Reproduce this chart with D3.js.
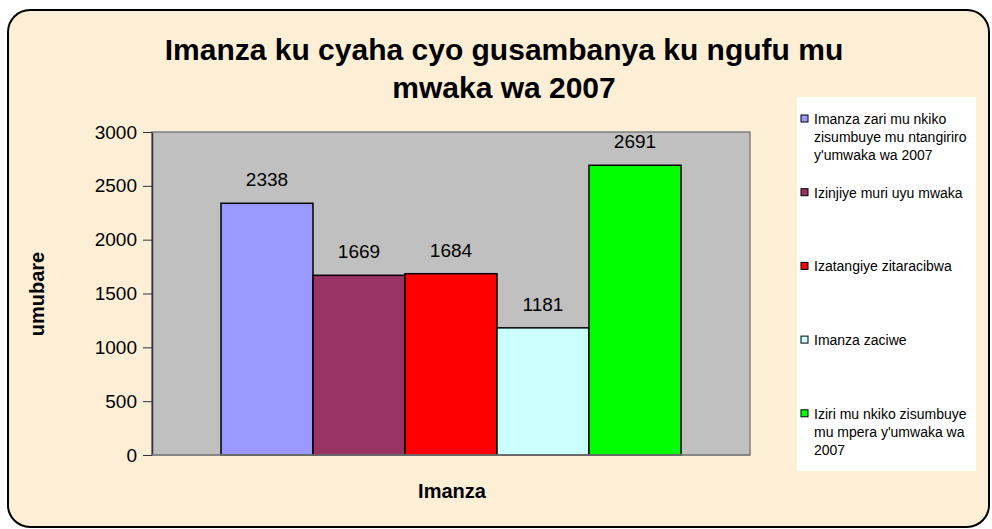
<!DOCTYPE html>
<html>
<head>
<meta charset="utf-8">
<script src="https://cdn.jsdelivr.net/npm/d3@7"></script>
<style>
    body { margin: 0; background: #ffffff; }
    svg  { display: block; font-family: "Liberation Sans", Arial, sans-serif; }
</style>
</head>
<body>
<div id="graph"></div>
<script>

// Chart data
var seriesNames  = [ "Imanza zari mu nkiko zisumbuye mu ntangiriro y'umwaka wa 2007",
                     "Izinjiye muri uyu mwaka",
                     "Izatangiye zitaracibwa",
                     "Imanza zaciwe",
                     "Iziri mu nkiko zisumbuye mu mpera y'umwaka wa 2007" ];
var seriesValues = [ 2338, 1669, 1684, 1181, 2691 ];
var seriesColours = [ '#9999ff', '#993366', '#ff0000', '#ccffff', '#00ff00' ];

// legend lines (the way Excel wrapped them)
var legendLines = [ [ 'Imanza zari mu nkiko', 'zisumbuye mu ntangiriro', "y'umwaka wa 2007" ],
                    [ 'Izinjiye muri uyu mwaka' ],
                    [ 'Izatangiye zitaracibwa' ],
                    [ 'Imanza zaciwe' ],
                    [ 'Iziri mu nkiko zisumbuye', "mu mpera y'umwaka wa", '2007' ] ];

var yTicks     = [ 0, 500, 1000, 1500, 2000, 2500, 3000 ];
var titleLines = [ 'Imanza ku cyaha cyo gusambanya ku ngufu mu', 'mwaka wa 2007' ];
var xTitle     = 'Imanza';
var yTitle     = 'umubare';


var overallWidth  = 992;
var overallHeight = 529;

// plot area inside the chart
var plot = { left: 152, right: 750, top: 132, bottom: 455 };

var svg = d3.select ('#graph').append ('svg')
            .attr ('width', overallWidth)
            .attr ('height', overallHeight);

// chart frame
svg.append ('rect')
   .attr ('x', 8).attr ('y', 10)
   .attr ('width', 981).attr ('height', 517)
   .attr ('rx', 22).attr ('ry', 22)
   .style ('fill', '#fcefd6')
   .style ('stroke', '#000')
   .style ('stroke-width', 2);

// title
svg.append ('text')
   .attr ('x', 504).attr ('y', 60)
   .attr ('text-anchor', 'middle')
   .style ('font-size', '30px').style ('font-weight', 'bold')
   .selectAll ('tspan')
   .data (titleLines)
   .enter ()
   .append ('tspan')
   .attr ('x', 504)
   .attr ('dy', function (d, i) { return i == 0 ? 0 : 38; })
   .text (function (d) { return d; });

var x = d3.scaleBand ()
          .domain (seriesNames)
          .range ([ plot.left, plot.right ])
          .paddingInner (0)
          .paddingOuter (0.75);

var y = d3.scaleLinear ()
          .domain ([ 0, 3000 ])
          .range ([ plot.bottom, plot.top ]);

// plot background
svg.append ('rect')
   .attr ('x', plot.left).attr ('y', plot.top)
   .attr ('width', plot.right - plot.left)
   .attr ('height', plot.bottom - plot.top)
   .style ('fill', '#c0c0c0')
   .style ('stroke', '#808080')
   .style ('stroke-width', 1.5);

// bars
svg.selectAll ('.bar')
   .data (seriesValues)
   .enter ()
   .append ('rect')
   .attr ('class', 'bar')
   .attr ('x', function (d, i) { return x (seriesNames[i]); })
   .attr ('y', function (d) { return y (d); })
   .attr ('width', x.bandwidth ())
   .attr ('height', function (d) { return y (0) - y (d); })
   .style ('fill', function (d, i) { return seriesColours[i]; })
   .style ('stroke', '#000')
   .style ('stroke-width', 1.5);

// data labels
svg.selectAll ('.dataLabel')
   .data (seriesValues)
   .enter ()
   .append ('text')
   .attr ('class', 'dataLabel')
   .attr ('x', function (d, i) { return x (seriesNames[i]) + x.bandwidth () / 2; })
   .attr ('y', function (d) { return y (d) - 17; })
   .attr ('text-anchor', 'middle')
   .style ('font-size', '19px')
   .text (function (d) { return d; });

// y axis
var yAxis = d3.axisLeft (y)
              .tickValues (yTicks)
              .tickFormat (d3.format ('d'))
              .tickSize (9)
              .tickPadding (6)
              .tickSizeOuter (0);

var yAxisG = svg.append ('g')
                .attr ('transform', 'translate(' + plot.left + ',0)')
                .call (yAxis);

yAxisG.select ('.domain').style ('stroke', '#333').style ('stroke-width', 1.5);
yAxisG.selectAll ('.tick line').style ('stroke', '#333');
yAxisG.selectAll ('.tick text')
      .style ('font-size', '19px')
      .style ('font-family', '"Liberation Sans", Arial, sans-serif')
      .style ('fill', '#000');

// x axis baseline
svg.append ('line')
   .attr ('x1', plot.left).attr ('x2', plot.right)
   .attr ('y1', plot.bottom).attr ('y2', plot.bottom)
   .style ('stroke', '#808080')
   .style ('stroke-width', 1.5);

// axis titles
svg.append ('text')
   .attr ('x', 452).attr ('y', 498)
   .attr ('text-anchor', 'middle')
   .style ('font-size', '20px').style ('font-weight', 'bold')
   .text (xTitle);

svg.append ('text')
   .attr ('transform', 'translate(44,294)rotate(-90)')
   .attr ('text-anchor', 'middle')
   .style ('font-size', '20px').style ('font-weight', 'bold')
   .text (yTitle);

// legend
var legend = svg.append ('g').attr ('class', 'legend');

legend.append ('rect')
      .attr ('x', 797).attr ('y', 97)
      .attr ('width', 179).attr ('height', 374)
      .style ('fill', '#fff');

var legendItems = legend.selectAll ('.legendItem')
                        .data (legendLines)
                        .enter ()
                        .append ('g')
                        .attr ('class', 'legendItem')
                        .attr ('transform', function (d, i) { return 'translate(0,' + (119 + i * 73.7) + ')'; });

legendItems.append ('rect')
           .attr ('x', 801).attr ('y', -4)
           .attr ('width', 7).attr ('height', 7)
           .style ('fill', function (d, i) { return seriesColours[i]; })
           .style ('stroke', '#000')
           .style ('stroke-width', 1);

legendItems.append ('text')
           .attr ('x', 814).attr ('y', 5)
           .style ('font-size', '14px')
           .selectAll ('tspan')
           .data (function (d) { return d; })
           .enter ()
           .append ('tspan')
           .attr ('x', 814)
           .attr ('dy', function (d, i) { return i == 0 ? 0 : 18; })
           .text (function (d) { return d; });

</script>
</body>
</html>
